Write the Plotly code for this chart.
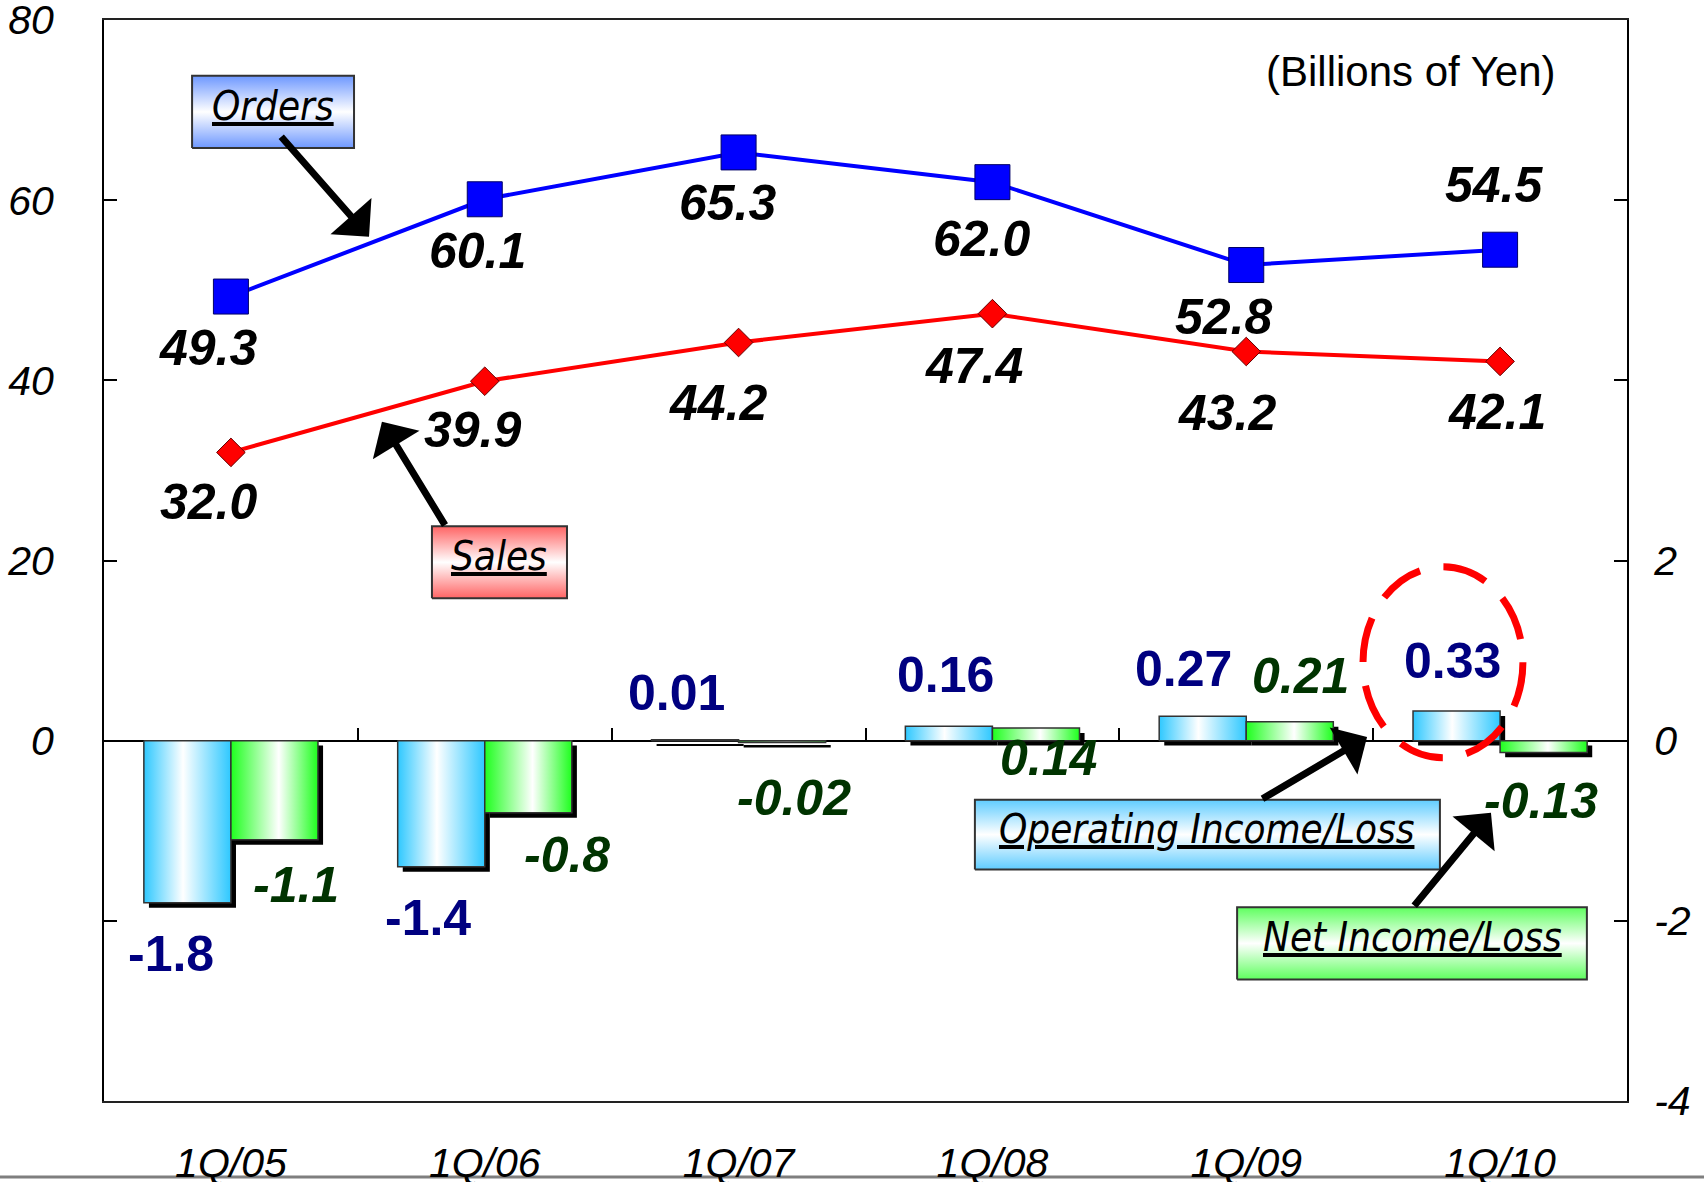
import plotly.graph_objects as go

# ---- data (billions of yen) ----
quarters = ["1Q/05", "1Q/06", "1Q/07", "1Q/08", "1Q/09", "1Q/10"]
orders = [49.3, 60.1, 65.3, 62.0, 52.8, 54.5]
sales = [32.0, 39.9, 44.2, 47.4, 43.2, 42.1]
operating_income = [-1.8, -1.4, 0.01, 0.16, 0.27, 0.33]
net_income = [-1.1, -0.8, -0.02, 0.14, 0.21, -0.13]

left_ticks = [-40, -20, 0, 20, 40, 60, 80]
left_labels = ["", "", "0", "20", "40", "60", "80"]
right_ticks = [-4, -2, 0, 2, 4, 6, 8]
right_labels = ["-4", "-2", "0", "2", "", "", ""]

# ---- label placement offsets (pixels: dx, dy-down) ----
orders_off = [(-22, 51), (-7, 52), (-11, 51), (-10, 57), (-22, 52), (-6, -65)]
sales_off = [(-22, 50), (-12, 49), (-20, 60), (-18, 52), (-19, 61), (-3, 51)]
op_off = [(-16, 51), (-13, 51), (-19, -47), (-3, -51), (-19, -47), (-4, -50)]
net_off = [(22, 45), (39, 42), (12, 56), (13, 30), (11, -46), (-3, 49)]

FONT = "Liberation Sans, Arial, sans-serif"
NARROW = "Liberation Sans Narrow, Arial Narrow, DejaVu Sans Condensed, sans-serif"

centers = [i + 0.5 for i in range(len(quarters))]
BAR_W = 0.343
SHADOW_DX = 0.02
SHADOW_DY = 0.055

BLUE_GRAD = [[0, "#2EC8FF"], [0.45, "#FFFFFF"], [1, "#2EC8FF"]]
GREEN_GRAD = [[0, "#1EFF1E"], [0.55, "#FFFFFF"], [1, "#1EFF1E"]]

fig = go.Figure()

# ---- orders / sales lines (left axis) ----
fig.add_trace(go.Scatter(
    x=centers, y=orders, mode="lines+markers", name="Orders",
    line=dict(color="#0000FF", width=4),
    marker=dict(symbol="square", size=35, color="#0000FF",
                line=dict(color="#000066", width=1)),
    xaxis="x", yaxis="y", showlegend=False))
fig.add_trace(go.Scatter(
    x=centers, y=sales, mode="lines+markers", name="Sales",
    line=dict(color="#FF0000", width=4),
    marker=dict(symbol="diamond", size=22, color="#FF0000",
                line=dict(color="#660000", width=1)),
    xaxis="x", yaxis="y", showlegend=False))

# ---- callout boxes with vertical gradient ----
def callout_box(x0, x1, y0, y1, edge_color):
    return go.Scatter(
        x=[x0, x1, x1, x0, x0], y=[y0, y0, y1, y1, y0],
        mode="lines", fill="toself",
        fillgradient=dict(type="vertical",
                          colorscale=[[0, edge_color], [0.5, "#FFFFFF"], [1, edge_color]]),
        line=dict(color="#333333", width=2),
        xaxis="x", yaxis="y", hoverinfo="skip", showlegend=False)

boxes = [
    ("Orders", 0.347, 0.985, 65.8, 73.8, "#6E98FF"),
    ("Sales", 1.292, 1.824, 15.8, 23.8, "#FF6464"),
    ("Operating Income/Loss", 3.431, 5.263, -14.3, -6.55, "#5FCCFF"),
    ("Net Income/Loss", 4.464, 5.842, -26.5, -18.5, "#5FFF5F"),
]
for _, x0, x1, y0, y1, col in boxes:
    fig.add_trace(callout_box(x0, x1, y0, y1, col))

# ---- income bars (right axis): drop shadows then gradient faces ----
fig.add_trace(go.Bar(
    x=centers, y=operating_income, base=-SHADOW_DY, width=BAR_W,
    offset=-BAR_W + SHADOW_DX, marker=dict(color="black", line=dict(width=0)),
    xaxis="x2", yaxis="y2", showlegend=False, hoverinfo="skip"))
fig.add_trace(go.Bar(
    x=centers, y=net_income, base=-SHADOW_DY, width=BAR_W,
    offset=SHADOW_DX, marker=dict(color="black", line=dict(width=0)),
    xaxis="x2", yaxis="y2", showlegend=False, hoverinfo="skip"))


def bar_face(xl, value, scale):
    xr = xl + BAR_W
    return go.Scatter(
        x=[xl, xr, xr, xl, xl], y=[0, 0, value, value, 0],
        mode="lines", fill="toself",
        fillgradient=dict(type="horizontal", colorscale=scale, start=xl, stop=xr),
        line=dict(color="#333333", width=1.5),
        xaxis="x2", yaxis="y2", hoverinfo="skip", showlegend=False)


for c, v in zip(centers, operating_income):
    fig.add_trace(bar_face(c - BAR_W, v, BLUE_GRAD))
for c, v in zip(centers, net_income):
    fig.add_trace(bar_face(c, v, GREEN_GRAD))

annotations = []

# ---- value labels ----
for c, v, (dx, dy) in zip(centers, orders, orders_off):
    annotations.append(dict(x=c, y=v, xref="x", yref="y", text=f"{v:.1f}",
                            showarrow=False, xshift=dx, yshift=-dy,
                            font=dict(family=FONT, size=50, color="black",
                                      weight="bold", style="italic")))
for c, v, (dx, dy) in zip(centers, sales, sales_off):
    annotations.append(dict(x=c, y=v, xref="x", yref="y", text=f"{v:.1f}",
                            showarrow=False, xshift=dx, yshift=-dy,
                            font=dict(family=FONT, size=50, color="black",
                                      weight="bold", style="italic")))
for c, v, (dx, dy) in zip(centers, operating_income, op_off):
    annotations.append(dict(x=c - BAR_W / 2, y=v, xref="x2", yref="y2", text=str(v),
                            showarrow=False, xshift=dx, yshift=-dy,
                            font=dict(family=FONT, size=50, color="#000080",
                                      weight="bold")))
for c, v, (dx, dy) in zip(centers, net_income, net_off):
    annotations.append(dict(x=c + BAR_W / 2, y=v, xref="x2", yref="y2", text=str(v),
                            showarrow=False, xshift=dx, yshift=-dy,
                            font=dict(family=FONT, size=50, color="#003300",
                                      weight="bold", style="italic")))

# ---- callout texts ----
for text, x0, x1, y0, y1, _ in boxes:
    annotations.append(dict(x=(x0 + x1) / 2, y=(y0 + y1) / 2, xref="x", yref="y",
                            text=text, showarrow=False, yshift=6,
                            font=dict(family=NARROW, size=40, color="black",
                                      style="italic", lineposition="under")))

# ---- callout arrows (head at x/y, tail at ax/ay) ----
arrows = [
    (1.044, 55.95, 0.693, 67.2),
    (1.095, 35.4, 1.347, 23.76),
    (4.976, 0.4, 4.558, -6.55),
    (5.464, -8.0, 5.157, -18.5),
]
for hx, hy, tx, ty in arrows:
    annotations.append(dict(x=hx, y=hy, ax=tx, ay=ty, xref="x", yref="y",
                            axref="x", ayref="y", text="", showarrow=True,
                            arrowhead=1, arrowsize=1.3, arrowwidth=7,
                            arrowcolor="black"))

# ---- unit note ----
annotations.append(dict(x=0.858, y=0.952, xref="paper", yref="paper",
                        xanchor="center", yanchor="middle",
                        text="(Billions of Yen)", showarrow=False,
                        font=dict(family=FONT, size=42, color="black")))

axis_font = dict(family=FONT, size=41, color="black", style="italic")

fig.update_layout(
    width=1704, height=1182,
    margin=dict(l=104, r=77, t=20, b=81, autoexpand=False),
    paper_bgcolor="white", plot_bgcolor="white",
    showlegend=False, barmode="overlay",
    annotations=annotations,
    xaxis=dict(range=[0, 6], tickvals=centers, ticktext=quarters, ticks="",
               showline=True, linecolor="#222222", linewidth=2, mirror=True,
               showgrid=False, zeroline=False, tickfont=axis_font,
               ticklabelstandoff=25, automargin=False, ticklabeloverflow="allow"),
    xaxis2=dict(range=[0, 6], overlaying="x", anchor="free", position=1 / 3,
                tickvals=[1, 2, 3, 4, 5], ticks="inside", ticklen=13,
                tickwidth=1.5, tickcolor="black", showticklabels=False,
                showline=False, showgrid=False, zeroline=False, automargin=False),
    yaxis=dict(range=[-40, 80], tickvals=left_ticks, ticktext=left_labels,
               ticks="inside", ticklen=13, tickwidth=1.5, tickcolor="black",
               showline=True, linecolor="black", linewidth=2,
               showgrid=False, zeroline=False, tickfont=axis_font,
               ticklabelstandoff=40, automargin=False, ticklabeloverflow="allow"),
    yaxis2=dict(range=[-4, 8], tickvals=right_ticks, ticktext=right_labels,
                overlaying="y", side="right", anchor="x",
                ticks="inside", ticklen=13, tickwidth=1.5, tickcolor="black",
                showline=True, linecolor="black", linewidth=2,
                showgrid=False, zeroline=True, zerolinecolor="black",
                zerolinewidth=1.5, tickfont=axis_font, ticklabelstandoff=17,
                automargin=False, ticklabeloverflow="allow"),
    shapes=[
        # highlight ring round the latest operating income
        dict(type="circle", xref="x2", yref="y2", x0=4.96, x1=5.59, y0=-0.19, y1=1.93,
             line=dict(color="#FF0000", width=7, dash="45px,24px"), layer="above"),
        # footer rule
        dict(type="line", xref="paper", yref="paper", x0=-0.07, x1=1.06,
             y0=-0.0703, y1=-0.0703, line=dict(color="#7F7F7F", width=3),
             layer="below"),
    ],
)

fig.write_html("out.html")
